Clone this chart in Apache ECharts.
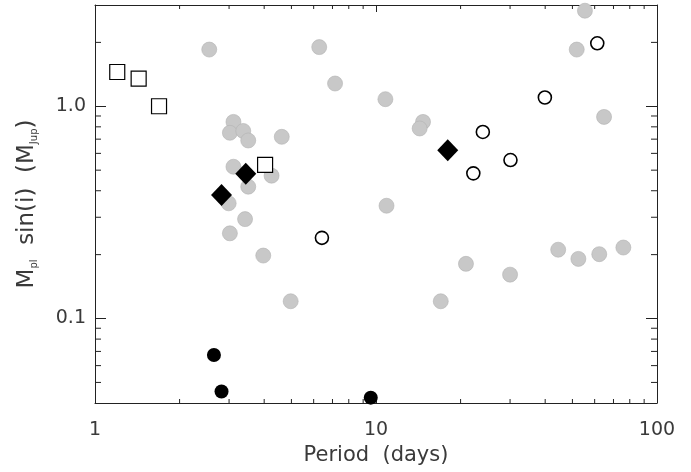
<!DOCTYPE html>
<html>
<head>
<meta charset="utf-8">
<script src="https://cdn.jsdelivr.net/npm/echarts@6/dist/echarts.min.js"></script>
<style>
  html, body { margin: 0; padding: 0; background: #fff; }
  #chart { width: 691px; height: 472px; }
</style>
</head>
<body>
<div id="chart"></div>
<script>
// [period (days), M sin(i) (MJup)]
const grayPlanets = [
  [2.55, 1.85], [6.28, 1.90], [7.15, 1.28], [3.11, 0.844], [3.02, 0.75],
  [3.37, 0.765], [3.51, 0.69], [4.62, 0.718], [3.11, 0.519], [4.25, 0.471],
  [3.51, 0.418], [2.99, 0.349], [3.42, 0.294], [3.02, 0.252], [3.97, 0.198],
  [4.97, 0.1206], [17.0, 0.1206], [20.9, 0.181], [30.0, 0.161], [44.5, 0.211],
  [52.5, 0.191], [62.3, 0.201], [75.9, 0.216], [55.4, 2.82], [51.8, 1.85],
  [10.8, 1.08], [14.7, 0.844], [14.3, 0.786], [64.8, 0.891], [10.9, 0.340]
];
const blackCircles = [[2.65, 0.0673], [2.82, 0.0453], [9.58, 0.0424]];
const openCircles = [[61.3, 1.98], [39.9, 1.10], [24.0, 0.757], [30.1, 0.558], [22.2, 0.483], [6.42, 0.240]];
const openSquares = [[1.20, 1.45], [1.43, 1.35], [1.69, 1.0], [4.03, 0.529]];
const diamonds = [[18.0, 0.621], [3.44, 0.481], [2.82, 0.382]];

const xRange = [1, 100];
const yRange = [0.04, 3];
const xMinorTicks = [2, 3, 4, 5, 6, 7, 8, 9, 20, 30, 40, 50, 60, 70, 80, 90];
const yMinorTicks = [0.05, 0.06, 0.07, 0.08, 0.09, 0.2, 0.3, 0.4, 0.5, 0.6, 0.7, 0.8, 0.9, 2];

const chart = echarts.init(document.getElementById('chart'));
const font = 'DejaVu Sans';
const textColor = '#3a3a3a';
const frame = { show: true, lineStyle: { color: '#222', width: 1 } };

function minorTickSeries(values, isX, len) {
  return {
    type: 'custom',
    silent: true,
    z: 1,
    data: values.map(v => isX ? [v, yRange[0]] : [xRange[0], v]),
    renderItem: function (params, api) {
      const v = api.value(isX ? 0 : 1);
      const a = api.coord(isX ? [v, yRange[0]] : [xRange[0], v]);
      const b = api.coord(isX ? [v, yRange[1]] : [xRange[1], v]);
      const style = { stroke: '#222', lineWidth: 1 };
      return {
        type: 'group',
        children: isX ? [
          { type: 'line', shape: { x1: a[0], y1: a[1], x2: a[0], y2: a[1] - len }, style: style },
          { type: 'line', shape: { x1: b[0], y1: b[1], x2: b[0], y2: b[1] + len }, style: style }
        ] : [
          { type: 'line', shape: { x1: a[0], y1: a[1], x2: a[0] + len, y2: a[1] }, style: style },
          { type: 'line', shape: { x1: b[0], y1: b[1], x2: b[0] - len, y2: b[1] }, style: style }
        ]
      };
    }
  };
}

chart.setOption({
  backgroundColor: '#fff',
  animation: false,
  grid: { left: 95, right: 34, top: 5, bottom: 69 },
  xAxis: [
    {
      type: 'log', logBase: 10, min: xRange[0], max: xRange[1],
      name: 'Period  (days)', nameLocation: 'middle', nameGap: 38,
      nameTextStyle: { fontFamily: font, fontSize: 21, color: textColor },
      axisLine: frame,
      axisTick: { show: true, inside: true, length: 7, lineStyle: { color: '#222' } },
      axisLabel: { fontFamily: font, fontSize: 19, color: textColor, margin: 18 },
      splitLine: { show: false }
    },
    {
      type: 'log', logBase: 10, min: xRange[0], max: xRange[1], position: 'top',
      axisLine: frame,
      axisTick: { show: true, inside: true, length: 7, lineStyle: { color: '#222' } },
      axisLabel: { show: false },
      splitLine: { show: false }
    }
  ],
  yAxis: [
    {
      type: 'log', logBase: 10, min: yRange[0], max: yRange[1],
      name: 'M{s|pl}  sin(i)  (M{s|Jup})', nameLocation: 'middle', nameGap: 56,
      nameTextStyle: {
        fontFamily: font, fontSize: 23, color: textColor,
        rich: { s: { fontFamily: font, fontSize: 10, color: textColor, verticalAlign: 'bottom' } }
      },
      axisLine: frame,
      axisTick: { show: true, inside: true, length: 11, lineStyle: { color: '#222' } },
      axisLabel: {
        fontFamily: font, fontSize: 19, color: textColor, margin: 9,
        showMinLabel: false, showMaxLabel: false,
        formatter: v => Number(v).toFixed(1)
      },
      splitLine: { show: false }
    },
    {
      type: 'log', logBase: 10, min: yRange[0], max: yRange[1], position: 'right',
      axisLine: frame,
      axisTick: { show: true, inside: true, length: 11, lineStyle: { color: '#222' } },
      axisLabel: { show: false },
      splitLine: { show: false }
    }
  ],
  series: [
    minorTickSeries(xMinorTicks, true, 4),
    minorTickSeries(yMinorTicks, false, 6),
    {
      type: 'scatter', data: grayPlanets, symbol: 'circle', symbolSize: 15, z: 2,
      itemStyle: { color: '#c8c8c8', borderColor: '#b2b2b2', borderWidth: 0.6, opacity: 1 }
    },
    {
      type: 'scatter', data: blackCircles, symbol: 'circle', symbolSize: 14, z: 3,
      itemStyle: { color: '#000', opacity: 1 }
    },
    {
      type: 'scatter', data: openCircles, symbol: 'circle', symbolSize: 13, z: 3,
      itemStyle: { color: '#fff', borderColor: '#000', borderWidth: 1.6, opacity: 1 }
    },
    {
      type: 'scatter', data: openSquares, symbol: 'rect', symbolSize: 15, z: 3,
      itemStyle: { color: '#fff', borderColor: '#000', borderWidth: 1.2, opacity: 1 }
    },
    {
      type: 'scatter', data: diamonds, symbol: 'diamond', symbolSize: [21, 22], z: 4,
      itemStyle: { color: '#000', opacity: 1 }
    }
  ]
});
</script>
</body>
</html>
